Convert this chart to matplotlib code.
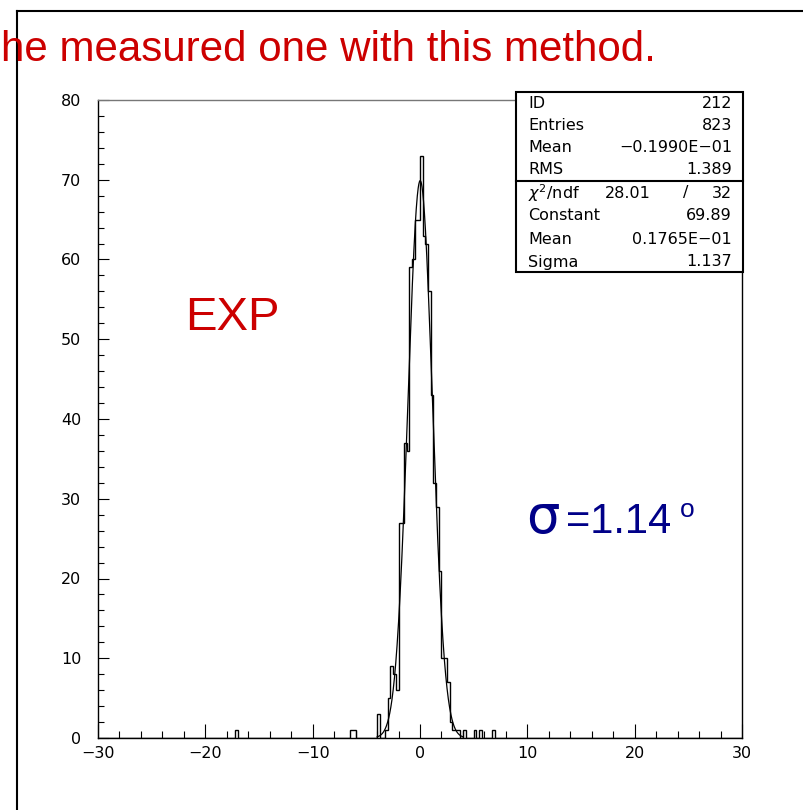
import numpy as np
import matplotlib
matplotlib.use('Agg')
import matplotlib.pyplot as plt
from matplotlib.lines import Line2D
from matplotlib.patches import Rectangle
from matplotlib.ticker import MultipleLocator

W, H = 804, 810

# ---------------- data ----------------
bin_width = 0.25
x_range = (-30.0, 30.0)
core_start = -4.0
core_counts = [3, 0, 0, 1, 5, 9, 8, 6, 27, 27, 37, 36, 59, 60, 65, 65,
               73, 63, 62, 56, 43, 32, 29, 21, 10, 10, 7, 2, 1, 1, 1, 0, 1]
tail_lefts = [-17.25, -6.5, -6.25, 5.0, 5.5, 6.75]
tail_counts = [1, 1, 1, 1, 1, 1]

fit_constant = 69.89
fit_mean = 0.1765e-01
fit_sigma = 1.137
fit_range = (-4.0, 4.0)

stats_top_labels = ["ID", "Entries", "Mean", "RMS"]
stats_top_values = ["212", "823", "\u22120.1990E\u221201", "1.389"]
chi2_value, ndf_value = "28.01", "32"
stats_fit_labels = ["Constant", "Mean", "Sigma"]
stats_fit_values = ["69.89", "0.1765E\u221201", "1.137"]

x_ticks = [-30, -20, -10, 0, 10, 20, 30]
y_ticks = [0, 10, 20, 30, 40, 50, 60, 70, 80]

title_text = "he measured one with this method."
exp_text = "EXP"
sigma_text = "=1.14"

# ---------------- build histogram ----------------
nbins = int(round((x_range[1] - x_range[0]) / bin_width))
edges = np.linspace(x_range[0], x_range[1], nbins + 1)
counts = np.zeros(nbins)
i0 = int(round((core_start - x_range[0]) / bin_width))
counts[i0:i0 + len(core_counts)] = core_counts
for xl, c in zip(tail_lefts, tail_counts):
    counts[int(round((xl - x_range[0]) / bin_width))] = c

def fx(px):
    return px / W

def fy(py):
    return 1 - py / H

fig = plt.figure(figsize=(W / 100, H / 100), dpi=100)
fig.patch.set_facecolor('white')

ax = fig.add_axes([fx(98), fy(738), (742 - 98) / W, (738 - 100) / H])
ax.stairs(counts, edges, color='black', linewidth=1.0)
xf = np.linspace(fit_range[0], fit_range[1], 400)
ax.plot(xf, fit_constant * np.exp(-0.5 * ((xf - fit_mean) / fit_sigma) ** 2),
        color='black', linewidth=0.9)

ax.set_xlim(*x_range)
ax.set_ylim(0, 80)
ax.set_xticks(x_ticks)
ax.set_yticks(y_ticks)
ax.set_xticklabels([str(t).replace('-', '\u2212') for t in x_ticks])
ax.xaxis.set_minor_locator(MultipleLocator(2))
ax.yaxis.set_minor_locator(MultipleLocator(2))
ax.tick_params(which='both', direction='in', top=False, right=False,
               labelsize=11.5, width=0.8, color='black')
ax.tick_params(axis='x', which='major', length=10, pad=6)
ax.tick_params(axis='x', which='minor', length=5)
ax.tick_params(axis='y', which='major', length=8, pad=12)
ax.tick_params(axis='y', which='minor', length=4)
for s in ax.spines.values():
    s.set_linewidth(1.0)
ax.spines['top'].set_color('#777777')

# outer slide frame
fig.add_artist(Line2D([fx(17), 1.0], [fy(11), fy(11)], color='black', linewidth=1.5))
fig.add_artist(Line2D([fx(17), fx(17)], [fy(11), 0.0], color='black', linewidth=1.5))

# title
fig.text(fx(1), fy(61), title_text, fontsize=30.3, color='#cc0000',
         family='Liberation Sans', ha='left', va='baseline')

# EXP
fig.text(fx(185), fy(330), exp_text, fontsize=34, color='#cc0000',
         family='Liberation Sans', ha='left', va='baseline')

# sigma annotation
navy = '#000088'
fig.text(fx(526), fy(533), "\u03c3", fontsize=38, color=navy,
         family='DejaVu Sans', ha='left', va='baseline')
fig.text(fx(566), fy(533), sigma_text, fontsize=30, color=navy,
         family='Liberation Sans', ha='left', va='baseline')
fig.text(fx(680), fy(517), "o", fontsize=19, color=navy,
         family='Liberation Sans', ha='left', va='baseline')

# stats box
bl, br, bt, bb, bsep = 516, 743, 92, 272, 181
fig.add_artist(Rectangle((fx(bl), fy(bb)), (br - bl) / W, (bb - bt) / H,
                         fill=True, facecolor='white', edgecolor='black',
                         linewidth=1.5))
fig.add_artist(Line2D([fx(bl), fx(br)], [fy(bsep), fy(bsep)], color='black', linewidth=1.5))
fs = 11.5
rows_top = [103, 126, 148, 170]
for lab, val, y in zip(stats_top_labels, stats_top_values, rows_top):
    fig.text(fx(528), fy(y), lab, fontsize=fs, ha='left', va='center')
    fig.text(fx(732), fy(y), val, fontsize=fs, ha='right', va='center')
fig.text(fx(528), fy(193), r'$\chi^2$/ndf', fontsize=fs, ha='left', va='center')
fig.text(fx(651), fy(193), chi2_value, fontsize=fs, ha='right', va='center')
fig.text(fx(686), fy(193), '/', fontsize=fs, ha='center', va='center')
fig.text(fx(732), fy(193), ndf_value, fontsize=fs, ha='right', va='center')
rows_fit = [216, 239, 262]
for lab, val, y in zip(stats_fit_labels, stats_fit_values, rows_fit):
    fig.text(fx(528), fy(y), lab, fontsize=fs, ha='left', va='center')
    fig.text(fx(732), fy(y), val, fontsize=fs, ha='right', va='center')

fig.savefig('out.png', dpi=100)
